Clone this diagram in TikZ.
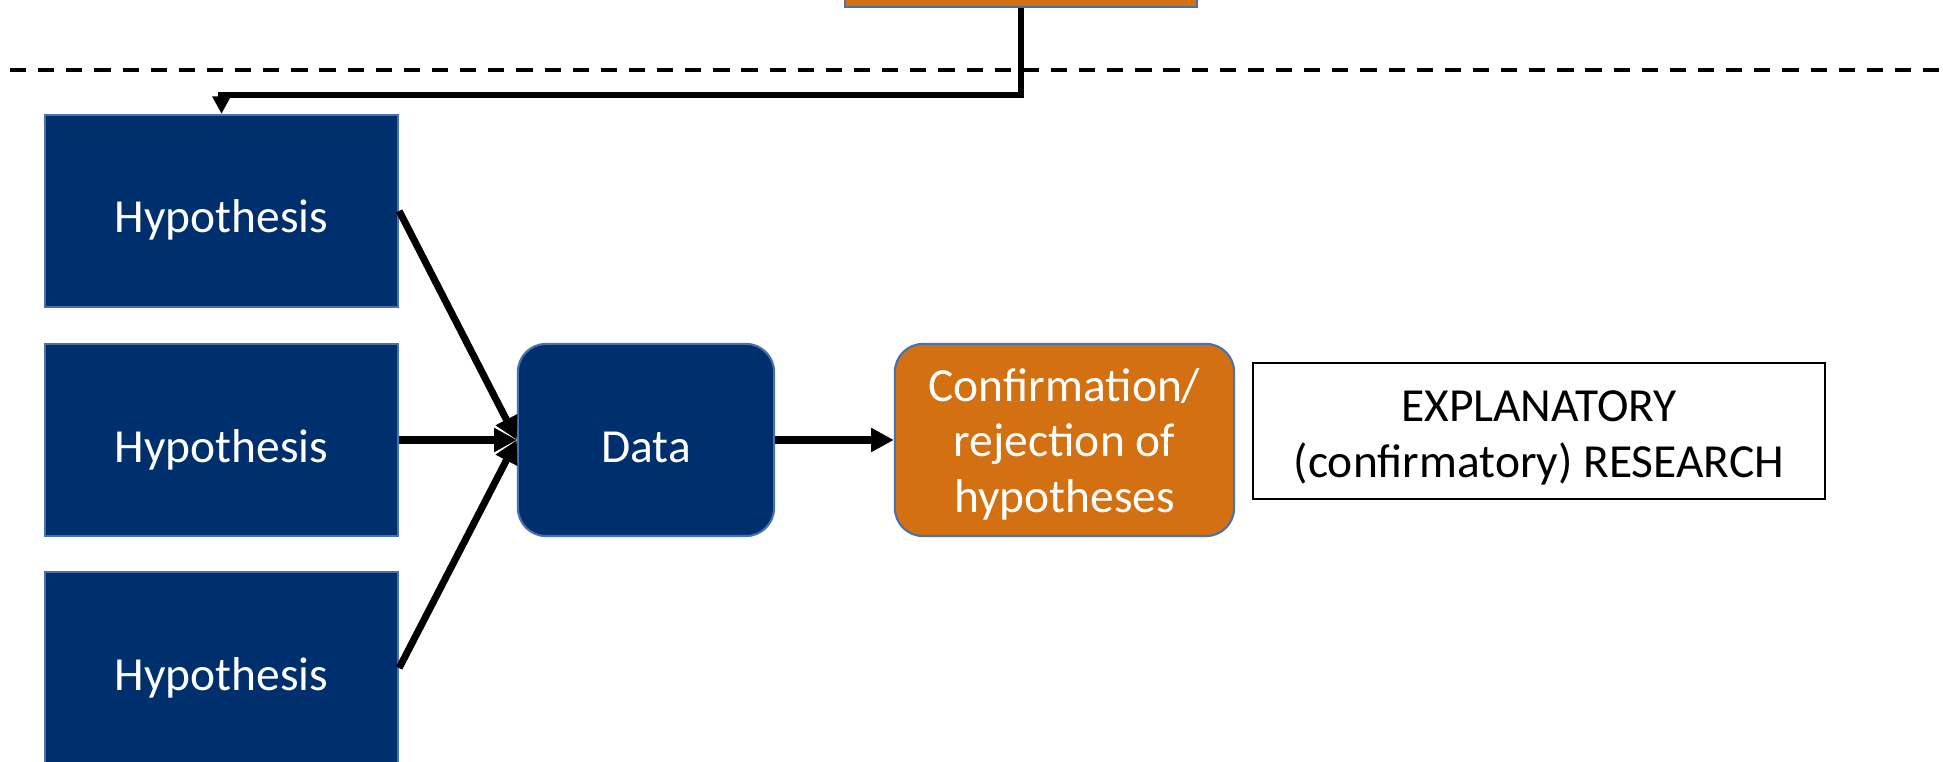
\documentclass[tikz,border=0pt]{standalone}
\usepackage{fontspec}
\setmainfont{Carlito}
\usetikzlibrary{arrows.meta}

\definecolor{hypblue}{RGB}{0,47,110}
\definecolor{edgeblue}{RGB}{72,114,174}
\definecolor{resorange}{RGB}{210,112,18}

\tikzset{
  hypbox/.style={draw=edgeblue, line width=0.6pt, fill=hypblue, text=white,
    minimum width=3.53cm, minimum height=1.92cm, inner sep=0pt,
    text height=0.44cm, text depth=0pt},
  databox/.style={hypbox, minimum width=2.56cm, rounded corners=0.28cm},
  resbox/.style={draw=edgeblue, line width=0.6pt, fill=resorange, text=white,
    minimum width=3.39cm, minimum height=1.92cm, inner sep=0pt,
    rounded corners=0.28cm, align=center, text height=1.44cm, text depth=0pt},
  topbox/.style={resbox, minimum width=3.52cm, rounded corners=0pt},
  labelbox/.style={draw=black, line width=0.5pt, fill=white, align=center,
    minimum width=5.72cm, minimum height=1.36cm, inner sep=0pt,
    text height=0.92cm, text depth=0pt},
  flow/.style={line width=2pt, -{Triangle[length=6.5pt, width=6.5pt]}},
  dashline/.style={line width=1.15pt, dash pattern=on 4.6pt off 3.4pt}
}

\begin{document}
\begin{tikzpicture}[x=0.01cm, y=-0.01cm]

  \fontsize{13.5pt}{15.7pt}\selectfont

  \newcommand\HX{221.5}
  \newcommand\MY{440}

  \clip (0,0) rectangle (1943,762);

  % \draw[help lines] (0,0) grid (1943,762);

  \draw[dashline] (10,70) -- (1943,70);

  \node[topbox] (top) at (1021,-89) {};
  \node[hypbox] (hypA) at (\HX,211) {Hypothesis};
  \node[hypbox] (hypB) at (\HX,\MY) {Hypothesis};
  \node[hypbox] (hypC) at (\HX,668) {Hypothesis};
  \node[databox] (data) at (646,\MY) {Data};
  \node[resbox] (conf) at (1064.5,\MY) {Confirmation/\\rejection of\\hypotheses};
  \node[labelbox] (expl) at (1539,431) {EXPLANATORY\\(confirmatory) RESEARCH};

  \coordinate (bend) at (\HX,95);
  \draw[flow, line width=1.8pt, -{Triangle[length=5pt, width=5pt]}]
    (top.south) |- (bend) -- (hypA.north); %% top->A

  \draw[flow] (hypA.east) -- (data.west); %% A->data
  \draw[flow] (hypB.east) -- (data.west); %% B->data
  \draw[flow] (hypC.east) -- (data.west); %% C->data

  \draw[flow] (data.east) -- (conf.west); %% data->conf

\end{tikzpicture}
\end{document}
